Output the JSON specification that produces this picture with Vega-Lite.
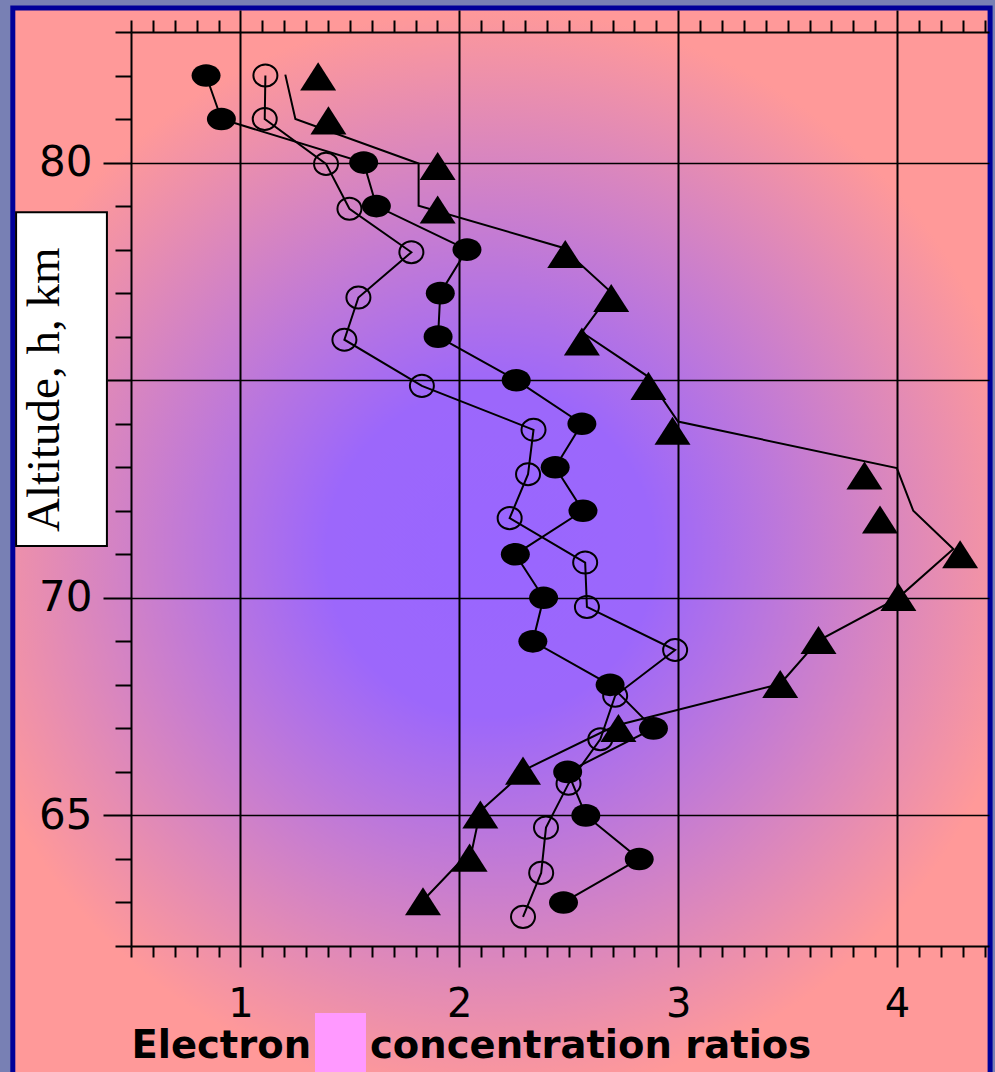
{
  "$schema": "https://vega.github.io/schema/vega-lite/v6.json",
  "width": 858,
  "height": 914,
  "autosize": {"type": "none"},
  "padding": {"left": 131, "top": 32, "right": 6, "bottom": 126},
  "background": "#7880b4",
  "config": {"view": {"stroke": null}},
  "datasets": {
    "filled": [
      {"ratio": 0.843, "h": 82}, {"ratio": 0.913, "h": 81}, {"ratio": 1.563, "h": 80}, {"ratio": 1.621, "h": 79},
      {"ratio": 2.035, "h": 78}, {"ratio": 1.913, "h": 77}, {"ratio": 1.903, "h": 76}, {"ratio": 2.26, "h": 75},
      {"ratio": 2.56, "h": 74}, {"ratio": 2.438, "h": 73}, {"ratio": 2.565, "h": 72}, {"ratio": 2.256, "h": 71},
      {"ratio": 2.385, "h": 70}, {"ratio": 2.336, "h": 69}, {"ratio": 2.689, "h": 68}, {"ratio": 2.887, "h": 67},
      {"ratio": 2.495, "h": 66}, {"ratio": 2.578, "h": 65}, {"ratio": 2.822, "h": 64}, {"ratio": 2.476, "h": 63}
    ],
    "open": [
      {"ratio": 1.114, "h": 82.0}, {"ratio": 1.111, "h": 81.0}, {"ratio": 1.391, "h": 79.97}, {"ratio": 1.498, "h": 78.94},
      {"ratio": 1.781, "h": 77.94}, {"ratio": 1.539, "h": 76.9}, {"ratio": 1.475, "h": 75.93}, {"ratio": 1.829, "h": 74.87},
      {"ratio": 2.339, "h": 73.86}, {"ratio": 2.314, "h": 72.84}, {"ratio": 2.23, "h": 71.83}, {"ratio": 2.575, "h": 70.81},
      {"ratio": 2.583, "h": 69.79}, {"ratio": 2.986, "h": 68.8}, {"ratio": 2.712, "h": 67.75}, {"ratio": 2.644, "h": 66.75},
      {"ratio": 2.499, "h": 65.73}, {"ratio": 2.396, "h": 64.72}, {"ratio": 2.374, "h": 63.68}, {"ratio": 2.291, "h": 62.67}
    ],
    "triangles": [
      {"ratio": 1.355, "h": 81.98}, {"ratio": 1.402, "h": 80.97}, {"ratio": 1.901, "h": 79.92}, {"ratio": 1.901, "h": 78.92},
      {"ratio": 2.484, "h": 77.9}, {"ratio": 2.694, "h": 76.89}, {"ratio": 2.56, "h": 75.89}, {"ratio": 2.864, "h": 74.87},
      {"ratio": 2.974, "h": 73.84}, {"ratio": 3.851, "h": 72.81}, {"ratio": 3.922, "h": 71.8}, {"ratio": 4.288, "h": 71.0},
      {"ratio": 4.006, "h": 70.02}, {"ratio": 3.641, "h": 69.03}, {"ratio": 3.466, "h": 68.02}, {"ratio": 2.727, "h": 67.01},
      {"ratio": 2.291, "h": 66.03}, {"ratio": 2.096, "h": 65.02}, {"ratio": 2.047, "h": 64.03}, {"ratio": 1.834, "h": 63.03}
    ],
    "triangleLine": [
      {"ratio": 1.205, "h": 82.02}, {"ratio": 1.251, "h": 81.0}, {"ratio": 1.814, "h": 79.98}, {"ratio": 1.814, "h": 79.01},
      {"ratio": 2.469, "h": 78.05}, {"ratio": 2.694, "h": 77.02}, {"ratio": 2.56, "h": 76.1}, {"ratio": 2.857, "h": 75.1},
      {"ratio": 2.999, "h": 74.05}, {"ratio": 3.999, "h": 72.98}, {"ratio": 4.074, "h": 72.0}, {"ratio": 4.257, "h": 71.12},
      {"ratio": 4.005, "h": 70.0}, {"ratio": 3.639, "h": 69.01}, {"ratio": 3.466, "h": 68.02}, {"ratio": 2.712, "h": 67.06},
      {"ratio": 2.315, "h": 66.09}, {"ratio": 2.096, "h": 65.1}, {"ratio": 2.059, "h": 64.23}, {"ratio": 1.854, "h": 63.15}
    ]
  },
  "layer": [
    {
      "data": {"values": [{}]},
      "mark": {
        "type": "rect",
        "stroke": "#000099",
        "strokeWidth": 5,
        "fill": {
          "gradient": "radial",
          "x1": 0.49, "y1": 0.5, "r1": 0,
          "x2": 0.49, "y2": 0.5, "r2": 0.5,
          "stops": [
            {"offset": 0, "color": "#9966ff"},
            {"offset": 0.3, "color": "#9c67fb"},
            {"offset": 1, "color": "#ff9999"}
          ]
        }
      },
      "encoding": {
        "x": {"datum": -0.04, "type": "quantitative", "scale": {"domain": [0.5, 4.42], "nice": false, "zero": false}, "axis": null},
        "x2": {"datum": 4.425},
        "y": {"datum": 83.55, "type": "quantitative", "scale": {"domain": [62, 83], "nice": false, "zero": false}, "axis": null},
        "y2": {"datum": 58.5}
      }
    },
    {
      "data": {"values": [{}]},
      "mark": {"type": "rect", "fill": "white", "stroke": "black", "strokeWidth": 2},
      "encoding": {
        "x": {"datum": -0.025, "type": "quantitative", "scale": {"domain": [0.5, 4.42], "nice": false, "zero": false}, "axis": null},
        "x2": {"datum": 0.39},
        "y": {"datum": 78.86, "type": "quantitative", "scale": {"domain": [62, 83], "nice": false, "zero": false}, "axis": null},
        "y2": {"datum": 71.19}
      }
    },
    {
      "data": {"values": [{}]},
      "mark": {"type": "text", "text": "Altitude, h, km", "font": "Liberation Serif", "fontSize": 47, "angle": 270, "align": "center", "baseline": "alphabetic", "color": "black"},
      "encoding": {
        "x": {"datum": 0.171, "type": "quantitative", "scale": {"domain": [0.5, 4.42], "nice": false, "zero": false}, "axis": null},
        "y": {"datum": 74.78, "type": "quantitative", "scale": {"domain": [62, 83], "nice": false, "zero": false}, "axis": null}
      }
    },
    {
      "data": {"values": [{}]},
      "mark": {"type": "rect", "fill": "#ff99ff"},
      "encoding": {
        "x": {"datum": 1.3406, "type": "quantitative", "scale": {"domain": [0.5, 4.42], "nice": false, "zero": false}, "axis": null},
        "x2": {"datum": 1.5736},
        "y": {"datum": 60.46, "type": "quantitative", "scale": {"domain": [62, 83], "nice": false, "zero": false}, "axis": null},
        "y2": {"datum": 58.5}
      }
    },
    {
      "data": {"values": [{}]},
      "mark": {"type": "text", "text": "Electron", "font": "DejaVu Sans", "fontWeight": "bold", "fontSize": 38.5, "align": "left", "baseline": "alphabetic", "color": "black"},
      "encoding": {
        "x": {"datum": 0.502, "type": "quantitative", "scale": {"domain": [0.5, 4.42], "nice": false, "zero": false}, "axis": null},
        "y": {"datum": 59.42, "type": "quantitative", "scale": {"domain": [62, 83], "nice": false, "zero": false}, "axis": null}
      }
    },
    {
      "data": {"values": [{}]},
      "mark": {"type": "text", "text": "concentration ratios", "font": "DejaVu Sans", "fontWeight": "bold", "fontSize": 38.5, "align": "left", "baseline": "alphabetic", "color": "black"},
      "encoding": {
        "x": {"datum": 1.592, "type": "quantitative", "scale": {"domain": [0.5, 4.42], "nice": false, "zero": false}, "axis": null},
        "y": {"datum": 59.42, "type": "quantitative", "scale": {"domain": [62, 83], "nice": false, "zero": false}, "axis": null}
      }
    },
    {
      "data": {"name": "filled"},
      "mark": {"type": "line", "color": "black", "strokeWidth": 2},
      "encoding": {
        "x": {"field": "ratio", "type": "quantitative", "scale": {"domain": [0.5, 4.42], "nice": false, "zero": false},
          "axis": {
            "orient": "bottom",
            "values": [0.5,0.6,0.7,0.8,0.9,1,1.1,1.2,1.3,1.4,1.5,1.6,1.7,1.8,1.9,2,2.1,2.2,2.3,2.4,2.5,2.6,2.7,2.8,2.9,3,3.1,3.2,3.3,3.4,3.5,3.6,3.7,3.8,3.9,4,4.1,4.2,4.3,4.4],
            "title": null,
            "zindex": 1,
            "domainColor": "black", "domainWidth": 2,
            "tickColor": "black", "tickWidth": 2,
            "tickSize": {"condition": {"test": "abs(datum.value - round(datum.value)) < 0.01", "value": 21}, "value": 11},
            "labelExpr": "abs(datum.value - round(datum.value)) < 0.01 ? '' + round(datum.value) : ''",
            "labelFont": "DejaVu Sans", "labelFontSize": 40, "labelColor": "black",
            "labelPadding": 17, "labelOverlap": false, "labelFlush": false, "labelBaseline": "top",
            "grid": true, "gridColor": "black",
            "gridWidth": {"condition": {"test": "abs(datum.value - round(datum.value)) < 0.01", "value": 2}, "value": 0},
            "gridOpacity": {"condition": {"test": "abs(datum.value - round(datum.value)) < 0.01", "value": 1}, "value": 0}
          }
        },
        "y": {"field": "h", "type": "quantitative", "scale": {"domain": [62, 83], "nice": false, "zero": false},
          "axis": {
            "orient": "left",
            "values": [62,63,64,65,66,67,68,69,70,71,72,73,74,75,76,77,78,79,80,81,82,83],
            "title": null,
            "zindex": 1,
            "domainColor": "black", "domainWidth": 2,
            "tickColor": "black", "tickWidth": 2,
            "tickSize": {"expr": "datum.value == 75 ? 24 : (datum.value % 5 == 0 ? 28 : 16)"},
            "labelExpr": "datum.value == 80 || datum.value == 70 || datum.value == 65 ? '' + datum.value : ''",
            "labelFont": "DejaVu Sans", "labelFontSize": 42, "labelColor": "black",
            "labelPadding": {"expr": "datum.value % 5 == 0 ? 11 : 23"}, "labelOverlap": false, "labelFlush": false, "labelBaseline": "middle",
            "grid": true, "gridColor": "black",
            "gridWidth": {"condition": {"test": "datum.value % 5 == 0", "value": 1.4}, "value": 0},
            "gridOpacity": {"condition": {"test": "datum.value % 5 == 0", "value": 1}, "value": 0}
          }
        },
        "order": {"field": "h", "sort": "descending"}
      }
    },
    {
      "data": {"name": "filled"},
      "mark": {"type": "point", "shape": "M-1,0 A1,0.78 0 1,0 1,0 A1,0.78 0 1,0 -1,0 Z", "size": 841, "filled": true, "color": "black", "opacity": 1},
      "encoding": {
        "x": {"field": "ratio", "type": "quantitative", "scale": {"domain": [0.5, 4.42], "nice": false, "zero": false},
          "axis": {
            "orient": "top",
            "values": [0.5,0.6,0.7,0.8,0.9,1,1.1,1.2,1.3,1.4,1.5,1.6,1.7,1.8,1.9,2,2.1,2.2,2.3,2.4,2.5,2.6,2.7,2.8,2.9,3,3.1,3.2,3.3,3.4,3.5,3.6,3.7,3.8,3.9,4,4.1,4.2,4.3,4.4],
            "title": null,
            "zindex": 1,
            "labels": false,
            "grid": false,
            "domainColor": "black", "domainWidth": 2,
            "tickColor": "black", "tickWidth": 2,
            "tickSize": {"condition": {"test": "abs(datum.value - round(datum.value)) < 0.01", "value": 22}, "value": 12}
          }
        },
        "y": {"field": "h", "type": "quantitative", "scale": {"domain": [62, 83], "nice": false, "zero": false}, "axis": null}
      }
    },
    {
      "data": {"name": "open"},
      "mark": {"type": "line", "color": "black", "strokeWidth": 2},
      "encoding": {
        "x": {"field": "ratio", "type": "quantitative", "scale": {"domain": [0.5, 4.42], "nice": false, "zero": false}, "axis": null},
        "y": {"field": "h", "type": "quantitative", "scale": {"domain": [62, 83], "nice": false, "zero": false}, "axis": null},
        "order": {"field": "h", "sort": "descending"}
      }
    },
    {
      "data": {"name": "open"},
      "mark": {"type": "point", "shape": "M-1,0 A1,0.92 0 1,0 1,0 A1,0.92 0 1,0 -1,0 Z", "size": 576, "filled": false, "stroke": "black", "strokeWidth": 2, "opacity": 1},
      "encoding": {
        "x": {"field": "ratio", "type": "quantitative", "scale": {"domain": [0.5, 4.42], "nice": false, "zero": false}, "axis": null},
        "y": {"field": "h", "type": "quantitative", "scale": {"domain": [62, 83], "nice": false, "zero": false}, "axis": null}
      }
    },
    {
      "data": {"name": "triangleLine"},
      "mark": {"type": "line", "color": "black", "strokeWidth": 2},
      "encoding": {
        "x": {"field": "ratio", "type": "quantitative", "scale": {"domain": [0.5, 4.42], "nice": false, "zero": false}, "axis": null},
        "y": {"field": "h", "type": "quantitative", "scale": {"domain": [62, 83], "nice": false, "zero": false}, "axis": null},
        "order": {"field": "h", "sort": "descending"}
      }
    },
    {
      "data": {"name": "triangles"},
      "mark": {"type": "point", "shape": "M0,-0.78 L1,0.78 L-1,0.78 Z", "size": 1296, "filled": true, "color": "black", "opacity": 1},
      "encoding": {
        "x": {"field": "ratio", "type": "quantitative", "scale": {"domain": [0.5, 4.42], "nice": false, "zero": false}, "axis": null},
        "y": {"field": "h", "type": "quantitative", "scale": {"domain": [62, 83], "nice": false, "zero": false}, "axis": null}
      }
    }
  ],
  "resolve": {"axis": {"x": "independent", "y": "independent"}}
}
